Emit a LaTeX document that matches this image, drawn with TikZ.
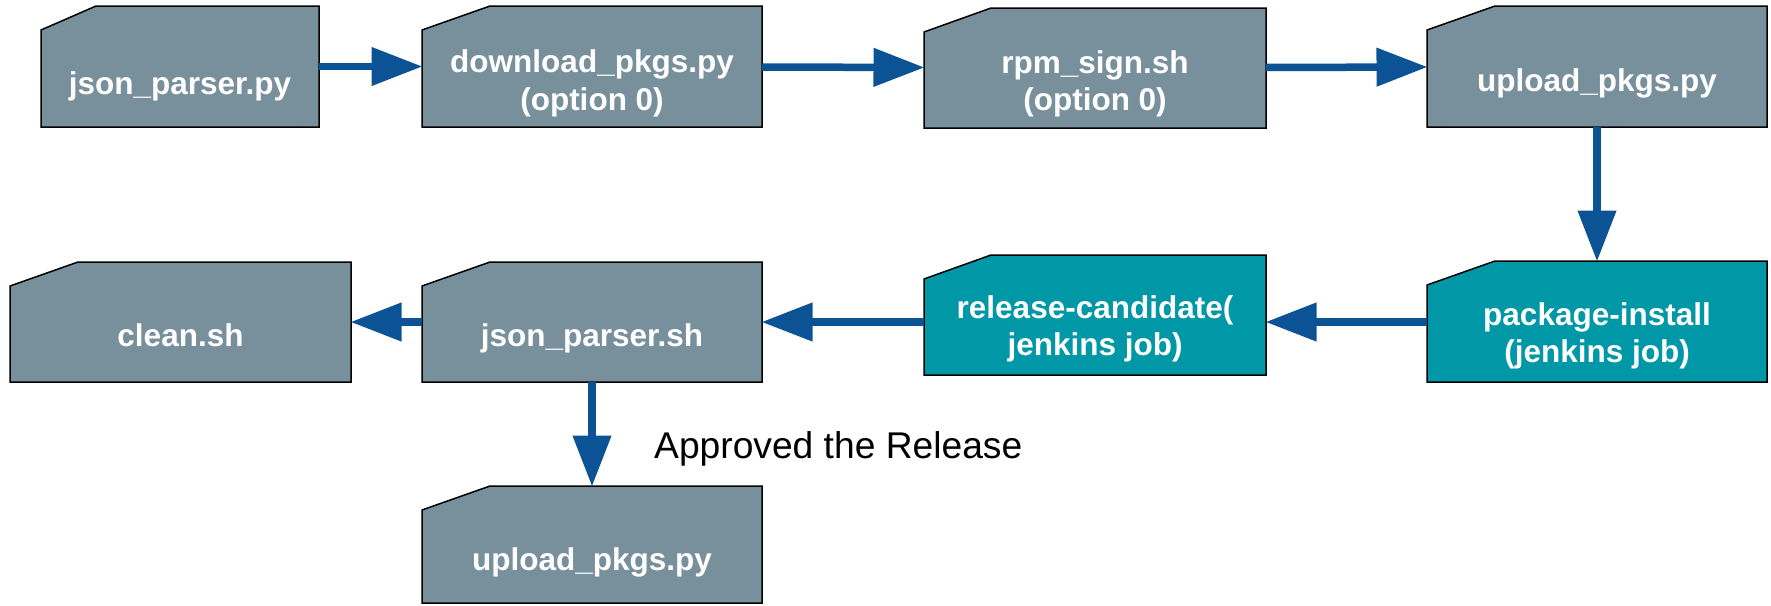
\documentclass[tikz,border=0pt]{standalone}
\usepackage{fontspec}
\setmainfont{Liberation Sans}
\usetikzlibrary{arrows.meta}
\definecolor{grayf}{HTML}{78909C}
\definecolor{tealf}{HTML}{0097A7}
\definecolor{arrblue}{HTML}{0B5394}
\newcommand\chamf[3]{\draw[boxline,fill=#2] ([xshift=#3]#1.north west) -- (#1.north east) -- (#1.south east) -- (#1.south west) -- ([yshift=-24pt]#1.north west) -- cycle;}
\tikzset{
  shp/.style={draw=none, fill=none, inner sep=0pt, outer sep=0pt, minimum width=340pt, minimum height=121pt},
  boxline/.style={draw=black, line width=1.5pt, line join=miter},
  lbl/.style={text=white, inner sep=0pt, anchor=base, font=\fontsize{31.5}{37.5}\selectfont\bfseries},
  arr/.style={draw=arrblue, line width=7.5pt, -{Triangle[length=51pt,width=37pt]}, shorten >=-0.5pt},
}
\begin{document}
\begin{tikzpicture}[x=1pt,y=-1pt]
\useasboundingbox (0,0) rectangle (1771,605);
% shape nodes
\node[shp, minimum width=278pt] (jp) at (180,66.5) {};
\node[shp] (dl) at (592,66.5) {};
\node[shp, minimum width=342pt, minimum height=120pt] (rs) at (1095,68) {};
\node[shp] (up) at (1597,66.5) {};
\node[shp] (pi) at (1597,321.5) {};
\node[shp, minimum width=342pt, minimum height=120pt] (rc) at (1095,315) {};
\node[shp, minimum height=120pt] (gs) at (592,322) {};
\node[shp, minimum width=341pt, minimum height=120pt] (cl) at (180.5,322) {};
\node[shp, minimum height=117pt] (up2) at (592,544.5) {};
\chamf{jp}{grayf}{55pt}
\chamf{dl}{grayf}{68pt}
\chamf{rs}{grayf}{67pt}
\chamf{up}{grayf}{68pt}
\chamf{pi}{tealf}{68pt}
\chamf{rc}{tealf}{67pt}
\chamf{gs}{grayf}{68pt}
\chamf{cl}{grayf}{68pt}
\chamf{up2}{grayf}{68pt}
% connectors
\draw[arr] (jp) -- (dl);
\draw[arr] (dl) -- (rs);
\draw[arr] (rs) -- (up);
\draw[arr] (up) -- (pi);
\draw[arr] (pi.west |- gs.east) -- (rc.east |- gs.east);
\draw[arr] (rc.west |- gs.east) -- (gs.east);
\draw[arr] (gs) -- (cl);
\draw[arr] (gs) -- (up2);
% texts
\node[lbl] (jp-t) at (180,94) {json\_parser.py};
\node[lbl] (dl-t) at (592,72.5) {\begin{tabular}[t]{@{}c@{}}download\_pkgs.py\\(option 0)\end{tabular}};
\node[lbl] (rs-t) at (1095,73) {\begin{tabular}[t]{@{}c@{}}rpm\_sign.sh\\(option 0)\end{tabular}};
\node[lbl] (up-t) at (1597,91) {upload\_pkgs.py};
\node[lbl] (pi-t) at (1597,325) {\begin{tabular}[t]{@{}c@{}}package-install\\(jenkins job)\end{tabular}};
\node[lbl] (rc-t) at (1095,318) {\begin{tabular}[t]{@{}c@{}}release-candidate(\\jenkins job)\end{tabular}};
\node[lbl] (gs-t) at (592,346) {json\_parser.sh};
\node[lbl] (cl-t) at (180.5,346) {clean.sh};
\node[lbl] (up2-t) at (592,570) {upload\_pkgs.py};
\node[anchor=base west, inner sep=0pt, font=\fontsize{37.2}{42}\selectfont] (ap) at (654,458) {Approved the Release};
\end{tikzpicture}
\end{document}
